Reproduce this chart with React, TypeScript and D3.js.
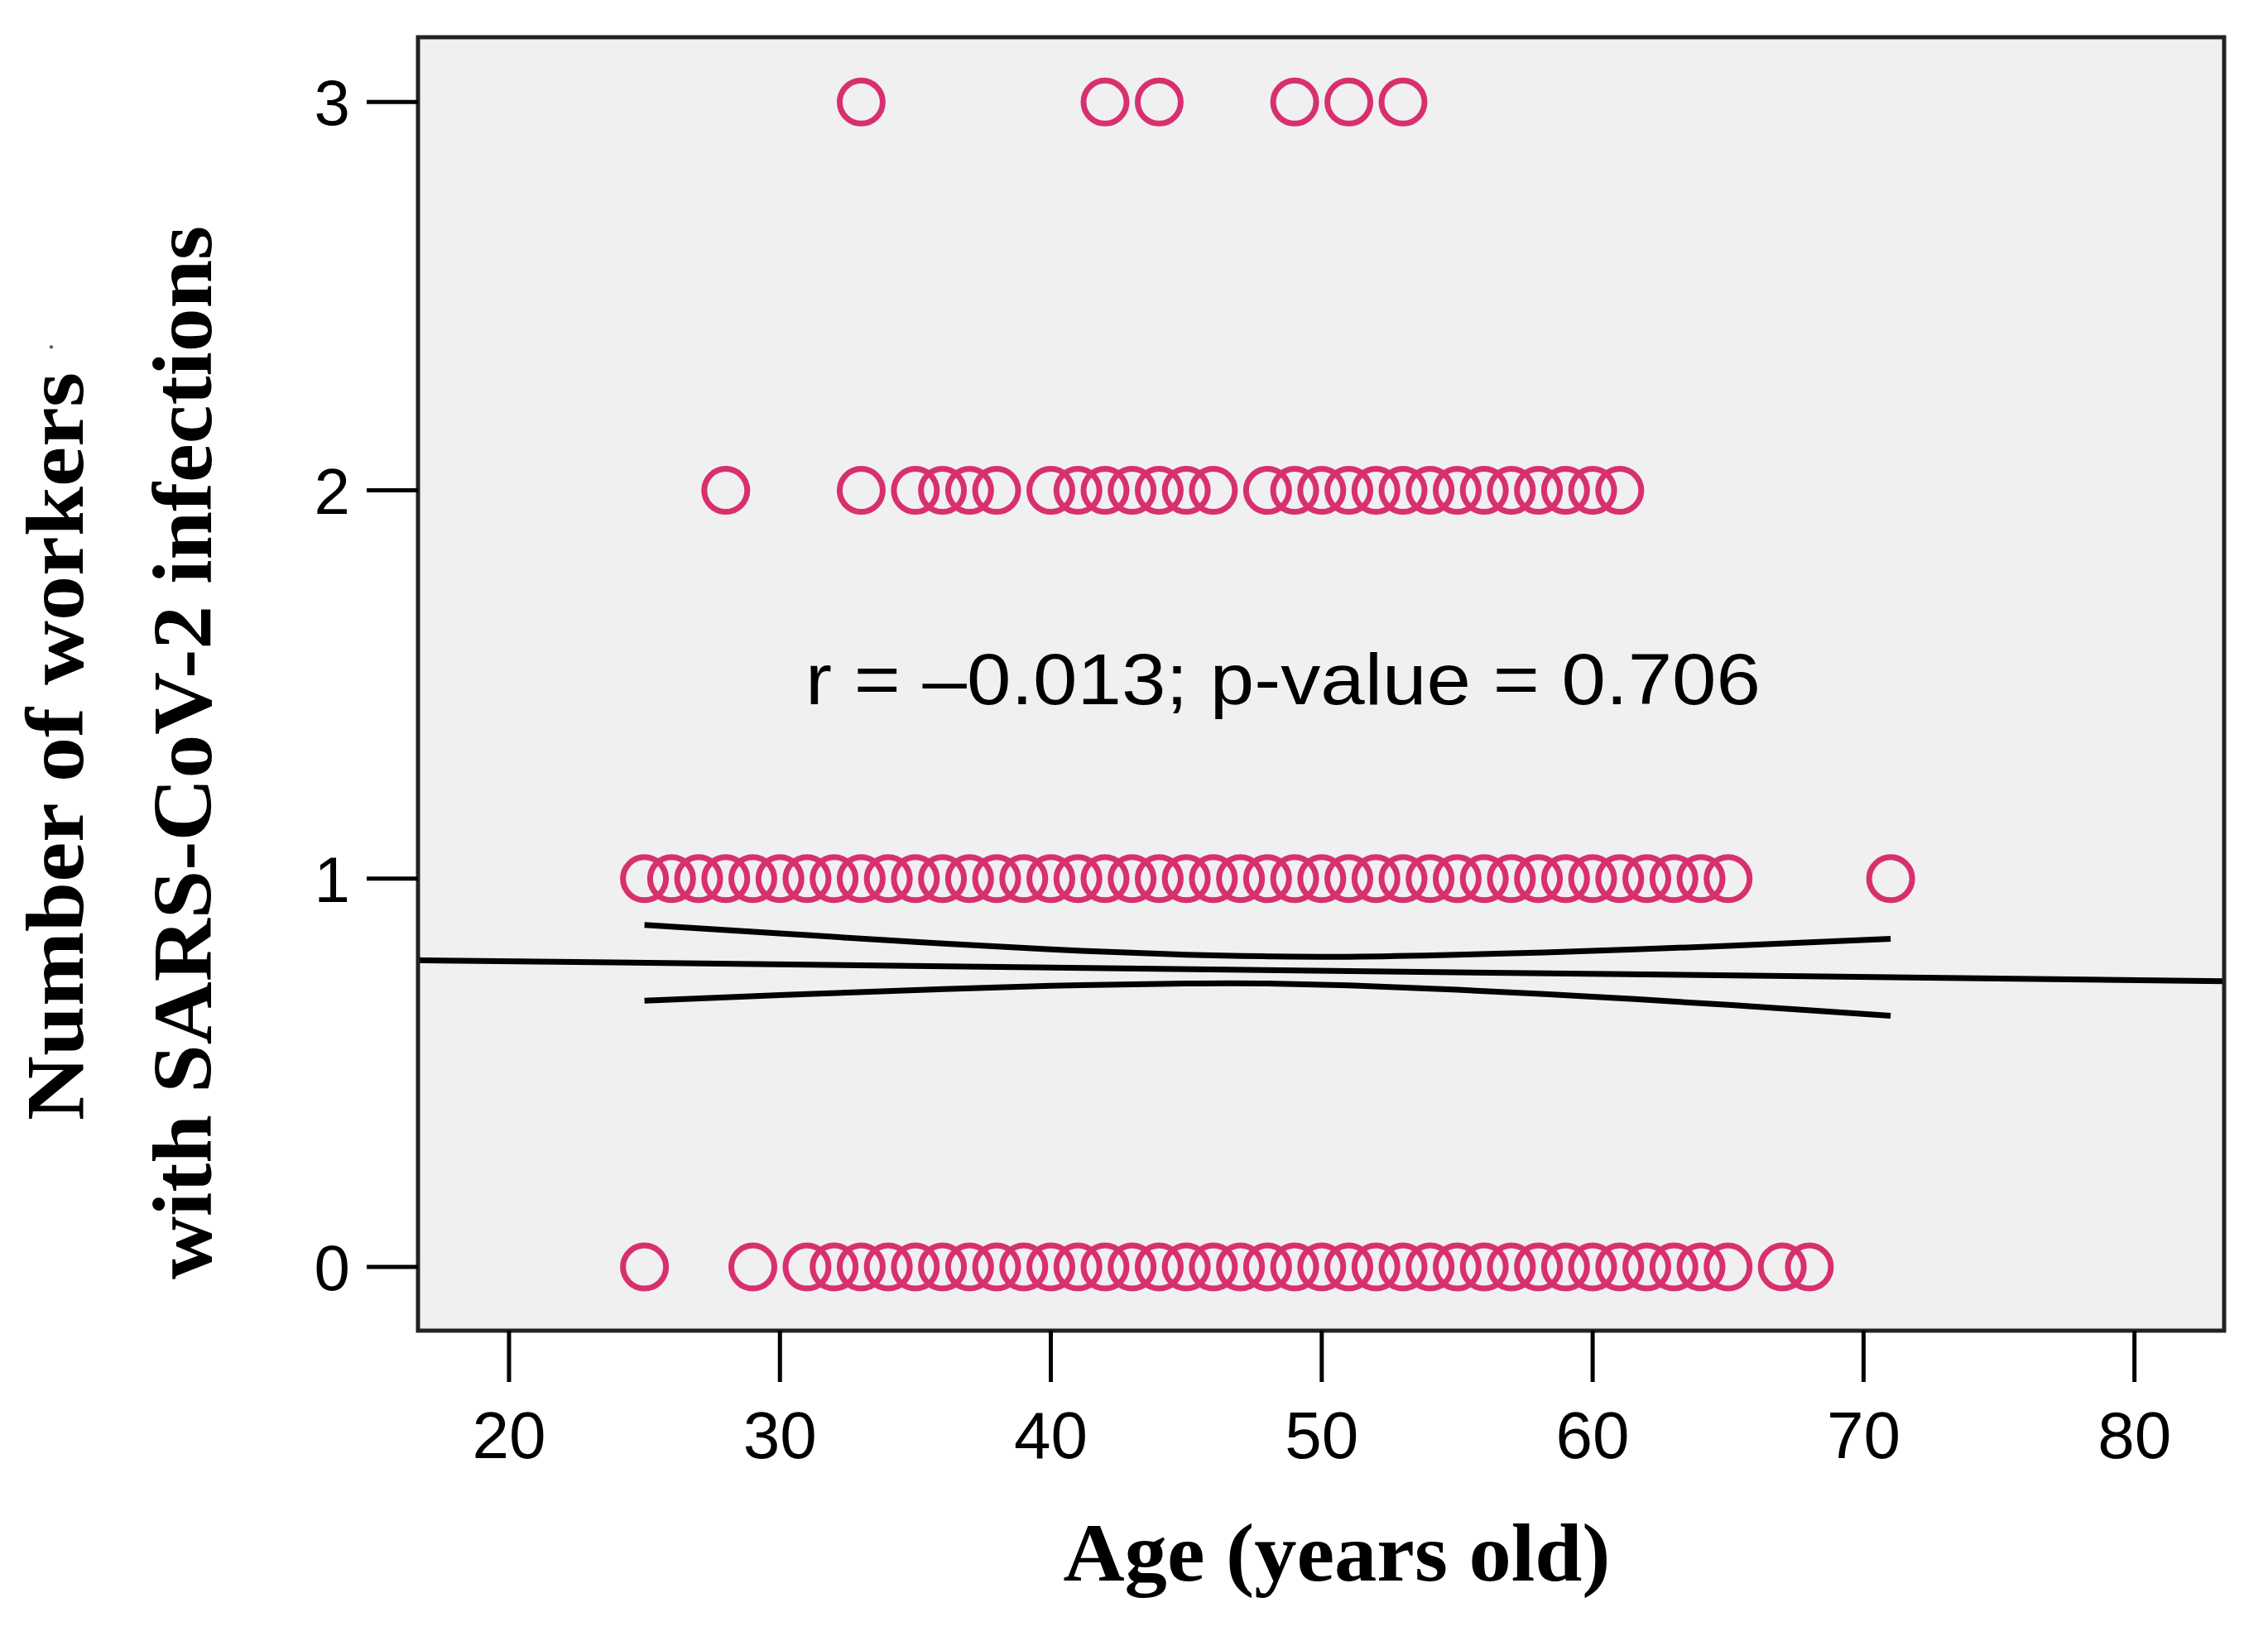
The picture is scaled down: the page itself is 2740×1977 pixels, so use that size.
import { useEffect } from "react"
import * as d3 from "d3"

// ages of workers, one list per number of infections (each circle = one age)
const count0Ages = [25, 29, 31, 32, 33, 34, 35, 36, 37, 38, 39, 40, 41, 42, 43, 44, 45, 46, 47, 48, 49, 50, 51, 52, 53, 54, 55, 56, 57, 58, 59, 60, 61, 62, 63, 64, 65, 67, 68]
const count1Ages = [25, 26, 27, 28, 29, 30, 31, 32, 33, 34, 35, 36, 37, 38, 39, 40, 41, 42, 43, 44, 45, 46, 47, 48, 49, 50, 51, 52, 53, 54, 55, 56, 57, 58, 59, 60, 61, 62, 63, 64, 65, 71]
const count2Ages = [28, 33, 35, 36, 37, 38, 40, 41, 42, 43, 44, 45, 46, 48, 49, 50, 51, 52, 53, 54, 55, 56, 57, 58, 59, 60, 61]
const count3Ages = [33, 42, 44, 49, 51, 53]
const counts = [0, 1, 2, 3]
const agesByCount = [count0Ages, count1Ages, count2Ages, count3Ages]

// linear fit and its 95% confidence band
const fitIntercept = 0.8035
const fitSlope = -0.00081
const bandAges = [25, 30, 35, 40, 45, 48, 51, 55, 60, 65, 71]
const bandUpper = [0.881, 0.859, 0.837, 0.818, 0.804, 0.8, 0.799, 0.804, 0.814, 0.827, 0.845]
const bandLower = [0.686, 0.7, 0.713, 0.724, 0.73, 0.73, 0.725, 0.714, 0.696, 0.675, 0.647]

const xTicks = [20, 30, 40, 50, 60, 70, 80]
const yTicks = [0, 1, 2, 3]

const W = 2740
const H = 1977
const plot = { left: 505, right: 2687, top: 45, bottom: 1608 }
const pink = "#d8306f"
const sans = "'Liberation Sans', Arial, sans-serif"
const serif = "'Liberation Serif', 'Times New Roman', serif"

const App = () => {
	useEffect(() => {
		document.body.style.margin = "0"
	}, [])

	const x = d3.scaleLinear().domain([16.64, 83.31]).range([plot.left, plot.right])
	const y = d3.scaleLinear().domain([-0.164, 3.167]).range([plot.bottom, plot.top])

	const points = agesByCount.flatMap((ages, i) => ages.map((age) => ({ age, count: counts[i] })))

	const line = d3
		.line<[number, number]>()
		.x((d) => x(d[0]))
		.y((d) => y(d[1]))
	const curve = d3
		.line<[number, number]>()
		.x((d) => x(d[0]))
		.y((d) => y(d[1]))
		.curve(d3.curveNatural)

	const [x0, x1] = x.domain()
	const fitPath = line([
		[x0, fitIntercept + fitSlope * x0],
		[x1, fitIntercept + fitSlope * x1],
	])
	const upperPath = curve(bandAges.map((a, i) => [a, bandUpper[i]] as [number, number]))
	const lowerPath = curve(bandAges.map((a, i) => [a, bandLower[i]] as [number, number]))

	return (
		<svg width={W} height={H} style={{ display: "block", background: "#fff" }}>
			<defs>
				<clipPath id="plotClip">
					<rect x={plot.left} y={plot.top} width={plot.right - plot.left} height={plot.bottom - plot.top} />
				</clipPath>
			</defs>
			<rect x={plot.left} y={plot.top} width={plot.right - plot.left} height={plot.bottom - plot.top} fill="#f0f0f0" />

			<g clipPath="url(#plotClip)">
				{points.map((p, i) => (
					<circle key={i} cx={x(p.age)} cy={y(p.count)} r={26} fill="none" stroke={pink} strokeWidth={7} />
				))}
				<path d={fitPath ?? ""} fill="none" stroke="#000" strokeWidth={7} />
				<path d={upperPath ?? ""} fill="none" stroke="#000" strokeWidth={7} />
				<path d={lowerPath ?? ""} fill="none" stroke="#000" strokeWidth={7} />
			</g>

			<rect
				x={plot.left}
				y={plot.top}
				width={plot.right - plot.left}
				height={plot.bottom - plot.top}
				fill="none"
				stroke="#222"
				strokeWidth={5}
			/>

			{/* y axis */}
			{yTicks.map((t) => (
				<g key={t}>
					<line x1={plot.left - 62} x2={plot.left} y1={y(t)} y2={y(t)} stroke="#000" strokeWidth={5} />
					<text x={plot.left - 82} y={y(t)} dy="0.36em" textAnchor="end" fontFamily={sans} fontSize={78}>
						{t}
					</text>
				</g>
			))}

			{/* x axis */}
			{xTicks.map((t) => (
				<g key={t}>
					<line x1={x(t)} x2={x(t)} y1={plot.bottom} y2={plot.bottom + 62} stroke="#000" strokeWidth={5} />
					<text x={x(t)} y={1762} textAnchor="middle" fontFamily={sans} fontSize={80}>
						{t}
					</text>
				</g>
			))}

			<text
				x={973}
				y={851}
				fontFamily={sans}
				fontSize={88}
				textLength={1154}
				lengthAdjust="spacingAndGlyphs"
			>
				r = –0.013; p-value = 0.706
			</text>

			<text
				x={1615}
				y={1910}
				textAnchor="middle"
				fontFamily={serif}
				fontWeight="bold"
				fontSize={100}
				textLength={661}
				lengthAdjust="spacingAndGlyphs"
			>
				Age (years old)
			</text>

			<text
				transform="translate(100,1354) rotate(-90)"
				fontFamily={serif}
				fontWeight="bold"
				fontSize={100}
				textLength={904}
				lengthAdjust="spacingAndGlyphs"
			>
				Number of workers
			</text>
			<text transform="translate(86,426) rotate(-90)" fontFamily={serif} fontSize={40} fill="#555">
				˙
			</text>
			<text
				transform="translate(255,1546) rotate(-90)"
				fontFamily={serif}
				fontWeight="bold"
				fontSize={102}
				textLength={1273}
				lengthAdjust="spacingAndGlyphs"
			>
				with SARS-CoV-2 infections
			</text>
		</svg>
	)
}

export default App
